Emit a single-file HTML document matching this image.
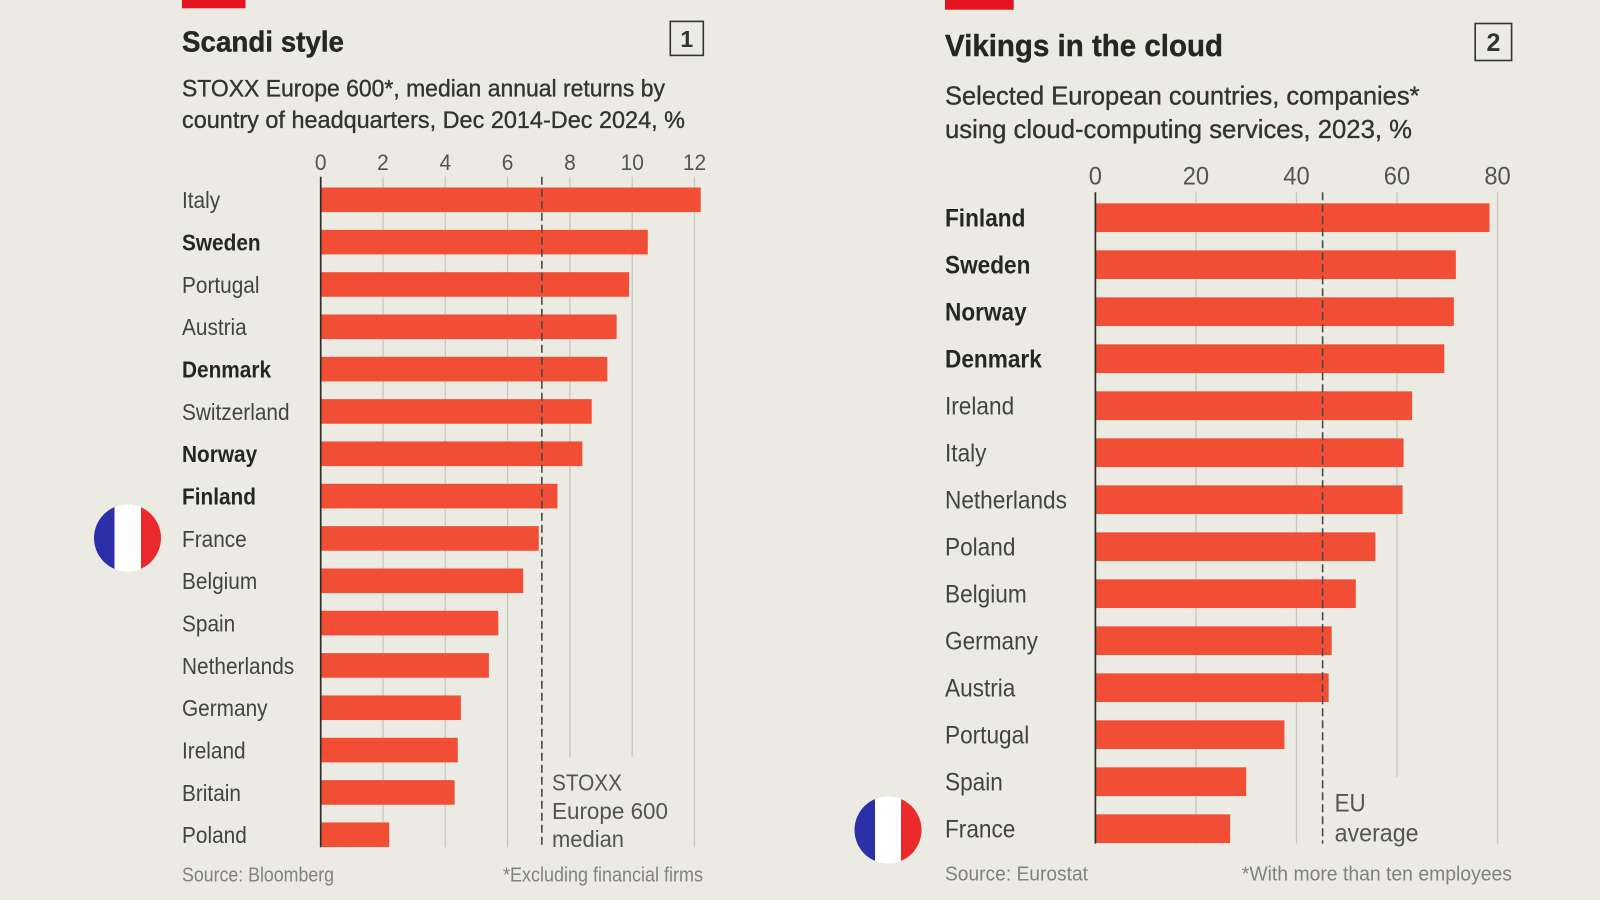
<!DOCTYPE html>
<html lang="en">
<head>
<meta charset="utf-8">
<title>Scandi style and Vikings in the cloud</title>
<style>
html,body{margin:0;padding:0;background:#ebebe3;width:1600px;height:900px;overflow:hidden}
svg{display:block;font-family:"Liberation Sans",sans-serif}
</style>
</head>
<body>
<svg id="canvas" width="1600" height="900" viewBox="0 0 1600 900" xmlns="http://www.w3.org/2000/svg">
  <defs>
    <clipPath id="flag-clip-a"><circle cx="127.5" cy="538" r="33.5"/></clipPath>
    <clipPath id="flag-clip-b"><circle cx="888" cy="830" r="33.5"/></clipPath>
  </defs>
  <rect width="1600" height="900" fill="#ebebe3"/>

  <g id="panel-left">
    <rect x="182" y="0" width="63.5" height="8.3" fill="#e6141f"/>
    <text x="182" y="51.7" font-size="29" font-weight="700" fill="#262624" stroke="#262624" stroke-width="0.4" textLength="162" lengthAdjust="spacingAndGlyphs">Scandi style</text>
    <rect x="670.3" y="21.4" width="33" height="34" fill="none" stroke="#33332f" stroke-width="1.6"/>
    <text x="686.8" y="47" font-size="23" font-weight="700" fill="#33332f" text-anchor="middle">1</text>
    <text x="182" y="96.7" font-size="24" fill="#33332f" stroke="#33332f" stroke-width="0.35" textLength="483" lengthAdjust="spacingAndGlyphs">STOXX Europe 600*, median annual returns by</text>
    <text x="182" y="128" font-size="24" fill="#33332f" stroke="#33332f" stroke-width="0.35" textLength="503" lengthAdjust="spacingAndGlyphs">country of headquarters, Dec 2014-Dec 2024, %</text>
    <text x="182" y="881.7" font-size="20" fill="#82827c" textLength="152" lengthAdjust="spacingAndGlyphs">Source: Bloomberg</text>
    <text x="503" y="881.7" font-size="20" fill="#82827c" textLength="200" lengthAdjust="spacingAndGlyphs">*Excluding financial firms</text>
  </g>

  <g id="panel-right">
    <rect x="945" y="0" width="68.7" height="9.7" fill="#e6141f"/>
    <text x="945" y="56" font-size="31" font-weight="700" fill="#262624" stroke="#262624" stroke-width="0.4" textLength="278" lengthAdjust="spacingAndGlyphs">Vikings in the cloud</text>
    <rect x="1475.2" y="23.5" width="36.4" height="37" fill="none" stroke="#33332f" stroke-width="1.6"/>
    <text x="1493.4" y="51" font-size="25" font-weight="700" fill="#33332f" text-anchor="middle">2</text>
    <text x="945" y="104.7" font-size="26" fill="#33332f" stroke="#33332f" stroke-width="0.35" textLength="474.5" lengthAdjust="spacingAndGlyphs">Selected European countries, companies*</text>
    <text x="945" y="138" font-size="26" fill="#33332f" stroke="#33332f" stroke-width="0.35" textLength="467" lengthAdjust="spacingAndGlyphs">using cloud-computing services, 2023, %</text>
    <text x="945" y="880.5" font-size="20" fill="#82827c" textLength="143" lengthAdjust="spacingAndGlyphs">Source: Eurostat</text>
    <text x="1241.8" y="880.5" font-size="20" fill="#82827c" textLength="270.2" lengthAdjust="spacingAndGlyphs">*With more than ten employees</text>
  </g>

  <g id="plot-left"></g>
  <g id="plot-right"></g>

  <g font-size="23" fill="#55554f">
    <text x="552" y="790.7" textLength="70" lengthAdjust="spacingAndGlyphs">STOXX</text>
    <text x="552" y="819" textLength="116" lengthAdjust="spacingAndGlyphs">Europe 600</text>
    <text x="552" y="847" textLength="72" lengthAdjust="spacingAndGlyphs">median</text>
  </g>
  <g font-size="25" fill="#55554f">
    <text x="1334.6" y="811.7" textLength="31" lengthAdjust="spacingAndGlyphs">EU</text>
    <text x="1334.6" y="841.7" textLength="84" lengthAdjust="spacingAndGlyphs">average</text>
  </g>

  <g clip-path="url(#flag-clip-a)">
    <rect x="94" y="504" width="20.5" height="68" fill="#2b30a8"/>
    <rect x="114.5" y="504" width="26.5" height="68" fill="#ffffff"/>
    <rect x="141" y="504" width="20.5" height="68" fill="#ea2a2c"/>
  </g>
  <g clip-path="url(#flag-clip-b)">
    <rect x="854" y="796" width="21" height="68" fill="#2b30a8"/>
    <rect x="875" y="796" width="26" height="68" fill="#ffffff"/>
    <rect x="901" y="796" width="21" height="68" fill="#ea2a2c"/>
  </g>
</svg>
<script>
const leftCountries = ["Italy","Sweden","Portugal","Austria","Denmark","Switzerland","Norway","Finland","France","Belgium","Spain","Netherlands","Germany","Ireland","Britain","Poland"];
const leftValues = [12.2,10.5,9.9,9.5,9.2,8.7,8.4,7.6,7.0,6.5,5.7,5.4,4.5,4.4,4.3,2.2];
const leftTicks = [0,2,4,6,8,10,12];
const leftMedian = 7.1;

const rightCountries = ["Finland","Sweden","Norway","Denmark","Ireland","Italy","Netherlands","Poland","Belgium","Germany","Austria","Portugal","Spain","France"];
const rightValues = [78.4,71.7,71.3,69.4,63.0,61.3,61.1,55.7,51.8,47.0,46.4,37.6,30.0,26.8];
const rightTicks = [0,20,40,60,80];
const rightAverage = 45.2;

const nordicCountries = ["Sweden","Denmark","Norway","Finland"];
const SVGNS = "http://www.w3.org/2000/svg";

function node(parent, tag, attrs) {
  const el = document.createElementNS(SVGNS, tag);
  for (const k in attrs) el.setAttribute(k, attrs[k]);
  parent.appendChild(el);
  return el;
}

function drawChart(o) {
  const g = document.getElementById(o.id);
  const x = v => o.x0 + v * o.unit;
  const y = i => o.y0 + i * o.step;

  o.ticks.forEach(t => {
    const line = node(g, "line", {x1:x(t), x2:x(t), y1:o.top, y2:o.bottom, stroke:"#c8c8c1", "stroke-width":1.3});
    
    
    const label = node(g, "text", {transform:`translate(${x(t)},${o.tickY}) scale(0.95,1)`, "font-size":o.tickSize, fill:"#55554f", "text-anchor":"middle"});
    label.textContent = t;
    
    
  });

  const mask = node(g, "rect", {x:x(o.refValue)+2, y:o.maskTop, width:o.maskWidth, height:o.bottom-o.maskTop+1, fill:"#ebebe3"});
  
  

  o.names.forEach((name, i) => {
    const bar = node(g, "rect", {x:x(0), y:y(i)-o.barH/2, width:x(o.values[i])-x(0), height:o.barH, fill:"#f24e36"});
    
    
    const bold = nordicCountries.includes(name);
    const label = node(g, "text", {transform:`translate(${o.labelX},${y(i)+o.labelDy}) scale(0.905,1)`, "font-size":o.labelSize, "font-weight":bold?700:400, fill:bold?"#262624":"#44443f"});
    label.textContent = name;
    
    
  });

  const axis = node(g, "line", {x1:x(0), x2:x(0), y1:o.top, y2:o.bottom, stroke:"#2d2d2a", "stroke-width":1.7});
  
  

  const ref = node(g, "line", {x1:x(o.refValue), x2:x(o.refValue), y1:o.top, y2:o.bottom, stroke:"#4a4a46", "stroke-width":1.6, "stroke-dasharray":"8 4"});
  
  
}

drawChart({id:"plot-left", names:leftCountries, values:leftValues, ticks:leftTicks, refValue:leftMedian,
  x0:320.7, unit:31.15, y0:199.8, step:42.33, barH:24.6, top:176.7, bottom:847.3,
  tickY:170, tickSize:22, labelX:182, labelDy:8.4, labelSize:23, maskTop:757, maskWidth:134});
drawChart({id:"plot-right", names:rightCountries, values:rightValues, ticks:rightTicks, refValue:rightAverage,
  x0:1095.4, unit:5.027, y0:217.7, step:47, barH:28.7, top:192.3, bottom:843.6,
  tickY:184.5, tickSize:25, labelX:945, labelDy:9, labelSize:25, maskTop:777, maskWidth:160});
</script>
</body>
</html>
